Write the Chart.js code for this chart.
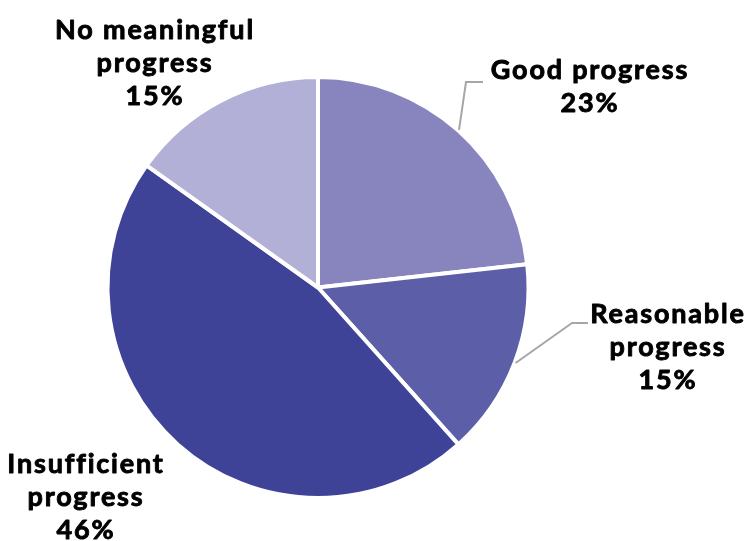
<!DOCTYPE html>
<html>
<head>
<meta charset="utf-8">
<script src="https://cdn.jsdelivr.net/npm/chart.js@4.4.0/dist/chart.umd.min.js"></script>
<style>
  html, body { margin: 0; padding: 0; background: #fff; }
  #wrap { width: 748px; height: 541px; position: relative; }
</style>
</head>
<body>
<div id="wrap"><canvas id="myChart" width="748" height="541"></canvas></div>
<script>
var categories = [
  "Good progress",
  "Reasonable progress",
  "Insufficient progress",
  "No meaningful progress",
];

var shares = [23, 15, 46, 15];

var sliceColors = ["#8784be", "#5d5ea8", "#3f4397", "#b3b0d7"];

// how each label is broken into lines (last line is the percent)
var labelLines = [
  ["Good progress"],
  ["Reasonable", "progress"],
  ["Insufficient", "progress"],
  ["No meaningful", "progress"],
];

// label placement: text centre x, first line y, optional leader elbow
var labelLayout = [
  { x: 590, y: 70, elbow: [466, 82], end: 483 },
  { x: 668, y: 314, elbow: [572, 323], end: 588 },
  { x: 86, y: 464 },
  { x: 155, y: 30 },
];

var labelPlugin = {
  id: "sliceLabels",
  afterDatasetsDraw: function (chart) {
    var ctx = chart.ctx;
    var meta = chart.getDatasetMeta(0);
    ctx.save();
    meta.data.forEach(function (arc, i) {
      var lay = labelLayout[i];
      if (lay.elbow) {
        var mid = (arc.startAngle + arc.endAngle) / 2;
        var r = arc.outerRadius + 1;
        ctx.beginPath();
        ctx.strokeStyle = "#a6a6a6";
        ctx.lineWidth = 2;
        ctx.moveTo(arc.x + Math.cos(mid) * r, arc.y + Math.sin(mid) * r);
        ctx.lineTo(lay.elbow[0], lay.elbow[1]);
        ctx.lineTo(lay.end, lay.elbow[1]);
        ctx.stroke();
      }
      var lines = labelLines[i].concat([shares[i] + "%"]);
      ctx.fillStyle = "#000";
      ctx.strokeStyle = "#000";
      ctx.lineWidth = 0.9;
      ctx.lineJoin = "round";
      ctx.font = "bold 27px Lato";
      ctx.letterSpacing = "1.8px";
      ctx.textAlign = "center";
      ctx.textBaseline = "middle";
      lines.forEach(function (t, j) {
        ctx.fillText(t, lay.x, lay.y + j * 33);
        ctx.strokeText(t, lay.x, lay.y + j * 33);
      });
    });
    ctx.restore();
  },
};

window.onload = function () {
  var ctx = document.getElementById("myChart").getContext("2d");
  new Chart(ctx, {
    type: "pie",
    data: {
      labels: categories,
      datasets: [
        {
          data: shares,
          backgroundColor: sliceColors,
          borderColor: "#ffffff",
          borderWidth: 4,
        },
      ],
    },
    options: {
      responsive: false,
      animation: false,
      layout: { padding: { left: 105, right: 217, top: 75, bottom: 41 } },
      plugins: {
        legend: { display: false },
        tooltip: { enabled: false },
      },
    },
    plugins: [labelPlugin],
  });
};
</script>
</body>
</html>
